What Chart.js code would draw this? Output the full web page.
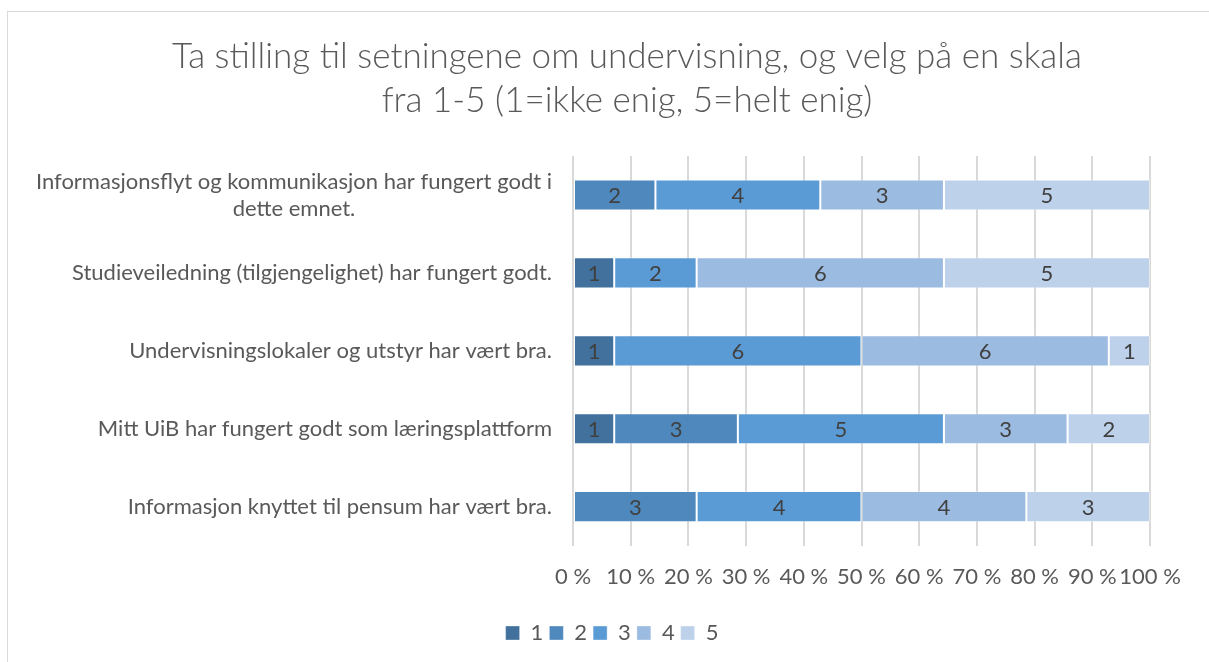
<!DOCTYPE html>
<html>
<head>
<meta charset="utf-8">
<script src="https://cdn.jsdelivr.net/npm/chart.js@4"></script>
<style>
    html, body { margin: 0; padding: 0; background: #fff; overflow: hidden; }
    #frame {
        position: absolute; left: 7px; top: 11px;
        width: 1400px; height: 800px;
        border: 1px solid #d9d9d9;
    }
    #wrap { position: absolute; left: 0; top: 0; width: 1209px; height: 662px; }
</style>
</head>
<body>
<div id="frame"></div>
<div id="wrap"><canvas id="chart"></canvas></div>
<script>
    // --- Données ---

    const titleLines = [
        'Ta stilling til setningene om undervisning, og velg på en skala',
        'fra 1-5 (1=ikke enig, 5=helt enig)'
    ];

    // Libellés tels que renvoyés à la ligne dans l'original
    const categories = [
        ['Informasjonsflyt og kommunikasjon har fungert godt i', 'dette emnet.'],
        ['Studieveiledning (tilgjengelighet) har fungert godt.'],
        ['Undervisningslokaler og utstyr har vært bra.'],
        ['Mitt UiB har fungert godt som læringsplattform'],
        ['Informasjon knyttet til pensum har vært bra.']
    ];

    const seriesNames = ['1', '2', '3', '4', '5'];

    // Nombre de réponses par score (1..5), une liste par score
    const score1 = [0, 1, 1, 1, 0];
    const score2 = [2, 0, 0, 3, 3];
    const score3 = [4, 2, 6, 5, 4];
    const score4 = [3, 6, 6, 3, 4];
    const score5 = [5, 5, 1, 2, 3];

    const xTicks = [0, 10, 20, 30, 40, 50, 60, 70, 80, 90, 100];

    const seriesColors = ['#41719c', '#4e88bd', '#5b9bd5', '#9cbbe1', '#bdd1eb'];

    // --- Construction ---

    const counts = [score1, score2, score3, score4, score5];
    const totals = categories.map((_, i) => counts.reduce((s, c) => s + c[i], 0));

    const FONT = 'Lato, "Open Sans", sans-serif';
    const TEXT = '#595959';
    const PLOT_LEFT = 573;
    const PAD_LEFT = 74;
    const PAD_RIGHT = 59;
    const SIZE = 22;

    // Titre : centré un peu à droite du centre, comme dans l'original
    const chartTitle = {
        id: 'chartTitle',
        afterDraw(chart) {
            const ctx = chart.ctx;
            ctx.save();
            ctx.font = '300 35px ' + FONT;
            ctx.fillStyle = TEXT;
            ctx.textAlign = 'center';
            ctx.textBaseline = 'middle';
            titleLines.forEach((l, k) => ctx.fillText(l, 627, 57 + k * 44));
            ctx.restore();
        }
    };

    // Étiquettes de données : nombre brut au centre de chaque segment
    const barLabels = {
        id: 'barLabels',
        afterDatasetsDraw(chart) {
            const ctx = chart.ctx;
            ctx.save();
            ctx.font = SIZE + 'px ' + FONT;
            ctx.fillStyle = '#404040';
            ctx.textAlign = 'center';
            ctx.textBaseline = 'middle';
            chart.data.datasets.forEach((ds, di) => {
                const meta = chart.getDatasetMeta(di);
                meta.data.forEach((bar, i) => {
                    const n = ds.counts[i];
                    if (!n) return;
                    ctx.fillText(String(n), (bar.x + bar.base) / 2, bar.y + 1);
                });
            });
            ctx.restore();
        }
    };

    // Libellés de catégorie : bloc aligné à droite, lignes centrées entre elles
    const categoryLabels = {
        id: 'categoryLabels',
        afterDraw(chart) {
            const ctx = chart.ctx;
            const y = chart.scales.y;
            const lineH = 27;
            ctx.save();
            ctx.font = SIZE + 'px ' + FONT;
            ctx.fillStyle = TEXT;
            ctx.textAlign = 'center';
            ctx.textBaseline = 'middle';
            categories.forEach((lines, i) => {
                const cy = y.getPixelForTick(i);
                const w = Math.max(...lines.map(l => ctx.measureText(l).width));
                const cx = PLOT_LEFT - 21 - w / 2;
                lines.forEach((l, k) => {
                    ctx.fillText(l, cx, cy + (k - (lines.length - 1) / 2) * lineH);
                });
            });
            ctx.restore();
        }
    };

    new Chart(document.getElementById('chart'), {
        type: 'bar',
        data: {
            labels: categories.map(l => l.join(' ')),
            datasets: seriesNames.map((name, s) => ({
                label: name,
                counts: counts[s],
                data: counts[s].map((c, i) => c / totals[i] * 100),
                backgroundColor: seriesColors[s],
                borderColor: 'rgba(255,255,255,0.35)',
                borderWidth: 1,
                borderSkipped: false,
                categoryPercentage: 1,
                barPercentage: 0.4
            }))
        },
        options: {
            indexAxis: 'y',
            responsive: true,
            maintainAspectRatio: false,
            animation: false,
            layout: { padding: { left: PAD_LEFT, right: PAD_RIGHT, top: 156, bottom: 8 } },
            plugins: {
                title: { display: false },
                legend: {
                    position: 'bottom',
                    labels: {
                        color: TEXT,
                        font: { family: FONT, size: SIZE },
                        boxWidth: 14,
                        boxHeight: 14,
                        padding: 6
                    }
                },
                tooltip: { enabled: false }
            },
            scales: {
                x: {
                    stacked: true,
                    min: 0,
                    max: 100,
                    afterBuildTicks(scale) {
                        scale.ticks = xTicks.map(v => ({ value: v }));
                    },
                    ticks: {
                        color: TEXT,
                        font: { family: FONT, size: SIZE },
                        padding: 18,
                        maxRotation: 0,
                        minRotation: 0,
                        autoSkip: false,
                        callback: v => v + ' %'
                    },
                    grid: { color: '#d9d9d9', lineWidth: 2, drawTicks: false },
                    border: { display: false },
                    afterFit(scale) { scale.height += 8; }
                },
                y: {
                    stacked: true,
                    ticks: { display: false },
                    grid: { display: false },
                    border: { display: false },
                    afterFit(scale) { scale.width = PLOT_LEFT - PAD_LEFT; }
                }
            }
        },
        plugins: [chartTitle, barLabels, categoryLabels]
    });
</script>
</body>
</html>
